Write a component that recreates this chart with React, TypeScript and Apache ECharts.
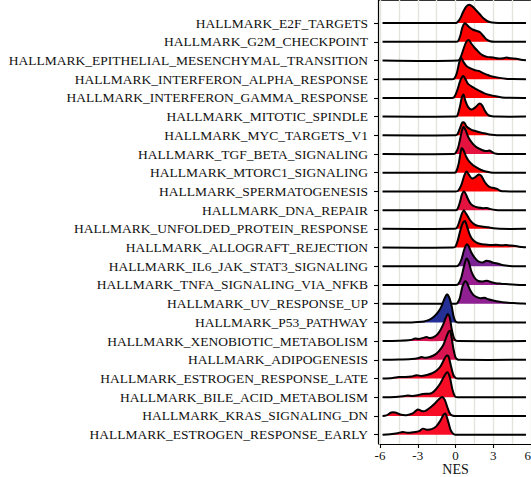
import React, { useEffect, useRef } from "react";
import * as echarts from "echarts";

// Pathways, listed top to bottom as in the chart
const pathways = [
  "HALLMARK_E2F_TARGETS",
  "HALLMARK_G2M_CHECKPOINT",
  "HALLMARK_EPITHELIAL_MESENCHYMAL_TRANSITION",
  "HALLMARK_INTERFERON_ALPHA_RESPONSE",
  "HALLMARK_INTERFERON_GAMMA_RESPONSE",
  "HALLMARK_MITOTIC_SPINDLE",
  "HALLMARK_MYC_TARGETS_V1",
  "HALLMARK_TGF_BETA_SIGNALING",
  "HALLMARK_MTORC1_SIGNALING",
  "HALLMARK_SPERMATOGENESIS",
  "HALLMARK_DNA_REPAIR",
  "HALLMARK_UNFOLDED_PROTEIN_RESPONSE",
  "HALLMARK_ALLOGRAFT_REJECTION",
  "HALLMARK_IL6_JAK_STAT3_SIGNALING",
  "HALLMARK_TNFA_SIGNALING_VIA_NFKB",
  "HALLMARK_UV_RESPONSE_UP",
  "HALLMARK_P53_PATHWAY",
  "HALLMARK_XENOBIOTIC_METABOLISM",
  "HALLMARK_ADIPOGENESIS",
  "HALLMARK_ESTROGEN_RESPONSE_LATE",
  "HALLMARK_BILE_ACID_METABOLISM",
  "HALLMARK_KRAS_SIGNALING_DN",
  "HALLMARK_ESTROGEN_RESPONSE_EARLY",
];

// Fill colour of each ridge (p.adjust gradient, red -> blue)
const fillColors = [
  "#FF0000", "#FF0000", "#FF0000", "#FF0000", "#FF0000", "#FF0000",
  "#FF0000", "#E3123F", "#FF0000", "#FF0000", "#E3123F", "#FF0000",
  "#FF0000", "#7B2392", "#9A1D90", "#8E2091", "#253096", "#D81550",
  "#D81550", "#F70D25", "#F70D25", "#F70D25", "#F70D25",
];

// Density curves: [NES, density] pairs (arbitrary density units)
const densityCurves: number[][][] = [
  // E2F_TARGETS
  [[-5.8,0],[0,0],[0.1,0.3],[0.35,4],[0.6,11],[0.85,16.5],[1.1,18.3],[1.35,16.5],[1.65,12.5],[1.95,8.5],[2.25,4.5],[2.55,1.8],[2.9,0.5],[3.4,0.1],[5.6,0]],
  // G2M_CHECKPOINT
  [[-5.8,0],[0.05,0],[0.2,0.5],[0.38,6],[0.55,14.5],[0.72,18.5],[0.9,17],[1.1,14.5],[1.4,12],[1.7,10.8],[1.95,9.5],[2.2,6],[2.45,2.5],[2.75,0.6],[3.1,0.1],[5.6,0]],
  // EMT
  [[-5.8,0],[0.2,0],[0.4,3],[0.65,12],[0.85,18.5],[1.05,20.5],[1.25,17],[1.5,13],[1.8,9],[2.1,5.5],[2.5,3.6],[3.0,3],[3.4,2],[3.8,2.3],[4.05,3],[4.4,2.2],[4.85,1.8],[5.2,0.8],[5.6,0.3]],
  // INTERFERON_ALPHA
  [[-5.8,0],[-0.3,0],[-0.1,0.6],[0.1,6],[0.3,17],[0.45,21.5],[0.62,17.5],[0.85,13.5],[1.15,11],[1.55,9],[1.9,8],[2.2,6],[2.5,4.5],[2.8,3.1],[3.1,2.3],[3.5,1.3],[4.0,0.4],[4.5,0.1],[5.6,0]],
  // INTERFERON_GAMMA
  [[-5.8,0],[-0.3,0],[-0.1,0.8],[0.15,8],[0.4,18],[0.62,22],[0.8,18.5],[1.0,14],[1.4,10.5],[1.9,7],[2.3,4.5],[2.7,3],[3.2,1.6],[3.7,0.5],[4.2,0.1],[5.6,0]],
  // MITOTIC_SPINDLE
  [[-5.8,0],[0,0],[0.15,1],[0.35,10],[0.52,20],[0.64,22],[0.78,16],[0.98,10],[1.25,7],[1.55,9],[1.9,13],[2.1,11.5],[2.35,5.5],[2.6,1.5],[2.9,0.3],[3.3,0],[5.6,0]],
  // MYC_TARGETS_V1
  [[-5.8,0],[0,0],[0.15,1],[0.35,7],[0.55,13],[0.7,12.5],[0.9,8.5],[1.2,6],[1.5,4.5],[1.9,3],[2.3,2],[2.7,0.8],[3.1,0.2],[3.5,0],[5.6,0]],
  // TGF_BETA
  [[-5.8,0],[-0.2,0],[0,1],[0.2,6],[0.4,17],[0.55,25],[0.65,27],[0.8,24],[0.95,19],[1.1,15],[1.3,11.5],[1.55,8],[1.8,5.8],[2.1,4],[2.35,3],[2.55,3],[2.7,3.6],[2.85,2.5],[3.1,0.6],[3.4,0.1],[5.6,0]],
  // MTORC1
  [[-5.8,0],[-0.1,0],[0.05,1],[0.25,9],[0.4,20],[0.5,24.5],[0.65,22],[0.85,16],[1.1,11],[1.4,7.5],[1.7,5],[2.0,3],[2.4,1.3],[2.8,0.3],[3.2,0],[5.6,0]],
  // SPERMATOGENESIS
  [[-5.8,0],[0,0],[0.2,0.5],[0.45,6],[0.7,16],[0.88,20],[1.05,17],[1.3,13],[1.55,14],[1.85,17],[2.05,15.5],[2.3,10],[2.55,6],[2.8,4],[3.05,3.5],[3.3,2.5],[3.55,0.7],[3.9,0.1],[5.6,0]],
  // DNA_REPAIR
  [[-5.8,0],[0,0],[0.15,1],[0.35,8],[0.52,16],[0.67,19],[0.82,16],[1.0,11],[1.2,6.5],[1.45,4],[1.8,2.6],[2.2,2],[2.5,2.2],[2.8,1],[3.2,0.2],[3.6,0],[5.6,0]],
  // UNFOLDED_PROTEIN_RESPONSE
  [[-5.8,0],[-0.1,0],[0.1,1],[0.3,7],[0.5,15],[0.65,18.5],[0.8,16],[1.0,12],[1.2,8],[1.5,4.5],[1.8,3],[2.2,2.2],[2.6,1.5],[3.0,0.5],[3.5,0],[5.6,0]],
  // ALLOGRAFT_REJECTION
  [[-5.8,0],[-0.2,0],[0,1],[0.2,8],[0.4,18],[0.6,25],[0.75,26.5],[0.9,22],[1.1,14],[1.3,9],[1.6,5.5],[2.0,3.5],[2.4,3],[2.8,2.5],[3.2,2.8],[3.6,2.2],[4.0,2.5],[4.4,2],[4.9,1.2],[5.3,0.5],[5.6,0.2]],
  // IL6_JAK_STAT3
  [[-5.8,0],[0,0],[0.2,0.5],[0.45,6],[0.7,17],[0.9,22],[1.05,20],[1.25,14],[1.5,9],[1.8,5],[2.15,3.8],[2.45,5.5],[2.7,5],[3.0,3.5],[3.4,2.5],[3.8,1],[4.3,0.3],[4.8,0],[5.6,0]],
  // TNFA_SIGNALING_VIA_NFKB
  [[-5.8,0],[0,0],[0.2,0.5],[0.45,7],[0.7,20],[0.88,26.5],[1.05,23],[1.25,14],[1.5,7.5],[1.8,4],[2.2,3.5],[2.5,4.3],[2.8,3],[3.2,1.8],[3.6,1.3],[4.2,0.8],[4.8,0.3],[5.3,0],[5.6,0]],
  // UV_RESPONSE_UP
  [[-5.8,0],[0,0],[0.15,0.5],[0.35,6],[0.55,17],[0.78,22.5],[0.95,20],[1.15,14],[1.4,9],[1.7,6.5],[2.0,5.5],[2.3,6],[2.6,4.5],[3.0,3.2],[3.5,2],[4.0,1.2],[4.6,0.6],[5.2,0.2],[5.6,0]],
  // P53_PATHWAY
  [[-5.8,0],[-3.5,0],[-3.0,0.3],[-2.5,1],[-2.1,2.5],[-1.7,6],[-1.4,10],[-1.15,15],[-0.9,23],[-0.68,28],[-0.5,25],[-0.3,16],[-0.15,6],[0,1],[0.2,0],[5.6,0]],
  // XENOBIOTIC_METABOLISM
  [[-5.8,0],[-4.5,0.3],[-3.6,1],[-3.2,2.5],[-2.9,2.2],[-2.5,3.5],[-2.3,4],[-2.0,3],[-1.6,5],[-1.3,9],[-1.0,16],[-0.75,24],[-0.6,27],[-0.45,23],[-0.3,12],[-0.15,4],[0,0.8],[0.2,0],[5.6,0]],
  // ADIPOGENESIS
  [[-5.8,0],[-4.5,0.3],[-3.5,0.8],[-3.0,1.5],[-2.7,2.7],[-2.4,2],[-2.0,3],[-1.6,5.5],[-1.3,9],[-1.0,14],[-0.75,22],[-0.55,28],[-0.42,29],[-0.28,20],[-0.15,10],[0,2.5],[0.15,0.5],[0.3,0],[5.6,0]],
  // ESTROGEN_RESPONSE_LATE
  [[-5.8,0],[-5.0,0.5],[-4.5,1.5],[-4.0,1.5],[-3.5,2],[-3.1,3.3],[-2.7,2.5],[-2.3,3.5],[-1.9,5],[-1.5,8],[-1.2,12],[-0.95,18],[-0.7,23],[-0.55,22],[-0.35,12],[-0.15,3],[0.05,0.3],[0.2,0],[5.6,0]],
  // BILE_ACID_METABOLISM
  [[-5.8,0],[-4.8,0.3],[-4.2,1],[-3.8,1.7],[-3.4,1.2],[-3.0,2],[-2.6,3.3],[-2.2,3.5],[-1.9,4],[-1.55,8],[-1.2,14],[-0.95,20],[-0.65,25],[-0.45,20],[-0.25,8],[-0.05,1],[0.15,0],[5.6,0]],
  // KRAS_SIGNALING_DN
  [[-5.8,0],[-5.5,0.5],[-5.1,3.5],[-4.8,3.5],[-4.4,1.5],[-3.9,0.8],[-3.4,2.5],[-3.0,6.5],[-2.7,5],[-2.4,5],[-2.0,8.5],[-1.6,13],[-1.3,17],[-1.05,19],[-0.85,16],[-0.6,7],[-0.4,1.5],[-0.2,0.2],[0,0],[5.6,0]],
  // ESTROGEN_RESPONSE_EARLY
  [[-5.8,0],[-5.2,0.5],[-4.6,1.5],[-4.2,2.7],[-3.8,1.8],[-3.3,2.5],[-2.9,3.5],[-2.6,6],[-2.3,5],[-1.9,5.5],[-1.55,8],[-1.2,14],[-0.95,20],[-0.8,21],[-0.6,14],[-0.4,5],[-0.2,1],[0,0],[5.6,0]],
];

const xMin = -6;
const xMax = 6;
const xInterval = 3;
const DENSITY_TO_ROW = 1 / 18.7;
const FONT = "'Liberation Serif', 'Times New Roman', serif";

export default function App() {
  const ref = useRef<HTMLDivElement>(null);

  useEffect(() => {
    if (!ref.current) return;
    const chart = echarts.init(ref.current, undefined, { renderer: "svg" });
    const n = pathways.length;
    const categories = [...pathways].reverse().concat([""]);

    chart.setOption({
      animation: false,
      backgroundColor: "#ffffff",
      grid: {
        left: 380,
        right: 0,
        top: -5,
        bottom: 33,
        containLabel: false,
        outerBoundsMode: "none",
      },
      xAxis: {
        type: "value",
        min: xMin,
        max: xMax,
        interval: xInterval,
        name: "NES",
        nameLocation: "middle",
        nameGap: 18.5,
        nameMoveOverlap: false,
        nameTextStyle: { fontFamily: FONT, fontSize: 14, lineHeight: 14, color: "#111" },
        axisLine: { show: true, onZero: false, lineStyle: { color: "#000", width: 1.2 } },
        axisTick: { show: true, length: 4, lineStyle: { color: "#000", width: 1.1 } },
        axisLabel: {
          fontFamily: FONT,
          fontSize: 13,
          lineHeight: 13,
          color: "#111",
          margin: 5,
          alignMaxLabel: "right",
        },
        splitLine: { show: true, lineStyle: { color: "#E4E4DC", width: 1.4 } },
        minorTick: { show: false, splitNumber: 2 },
        minorSplitLine: { show: true, lineStyle: { color: "#E4E4DC", width: 1.4 } },
      },
      yAxis: [
        {
          type: "category",
          data: categories,
          boundaryGap: true,
          offset: 2,
          axisLine: { show: true, onZero: false, lineStyle: { color: "#000", width: 1.2 } },
          axisTick: {
            show: true,
            length: 4,
            alignWithLabel: true,
            interval: (idx: number) => idx < n,
            lineStyle: { color: "#000", width: 1.1 },
          },
          axisLabel: {
            interval: 0,
            fontFamily: FONT,
            fontSize: 13.5,
            color: "#111",
            margin: 10,
          },
          splitLine: { show: false },
        },
        {
          type: "value",
          min: -0.5,
          max: n + 0.5,
          show: false,
        },
      ],
      graphic: [
        {
          type: "line",
          shape: { x1: 378, y1: 0.5, x2: 531, y2: 0.5 },
          style: { stroke: "#333", lineWidth: 1 },
          silent: true,
        },
      ],
      series: [
        {
          type: "custom",
          coordinateSystem: "cartesian2d",
          xAxisIndex: 0,
          yAxisIndex: 1,
          clip: false,
          silent: true,
          encode: { x: 0, y: 1 },
          data: pathways.map((_, i) => [0, n - 1 - i]),
          renderItem: (params: any, api: any) => {
            const i = params.dataIndex;
            const row = api.value(1);
            const curve = densityCurves[i];
            const pts = curve.map(([x, d]) => api.coord([x, row + d * DENSITY_TO_ROW]));
            return {
              type: "group",
              children: [
                {
                  type: "polygon",
                  z2: i * 2,
                  shape: { points: pts, smooth: 0.3 },
                  style: { fill: fillColors[i], stroke: "none" },
                },
                {
                  type: "polyline",
                  z2: i * 2 + 1,
                  shape: { points: pts, smooth: 0.3 },
                  style: { stroke: "#000", lineWidth: 2, fill: "none" },
                },
              ],
            };
          },
        },
      ],
    });

    return () => chart.dispose();
  }, []);

  return (
    <div
      ref={ref}
      style={{ position: "fixed", left: 0, top: 0, width: 531, height: 477, background: "#fff" }}
    />
  );
}
